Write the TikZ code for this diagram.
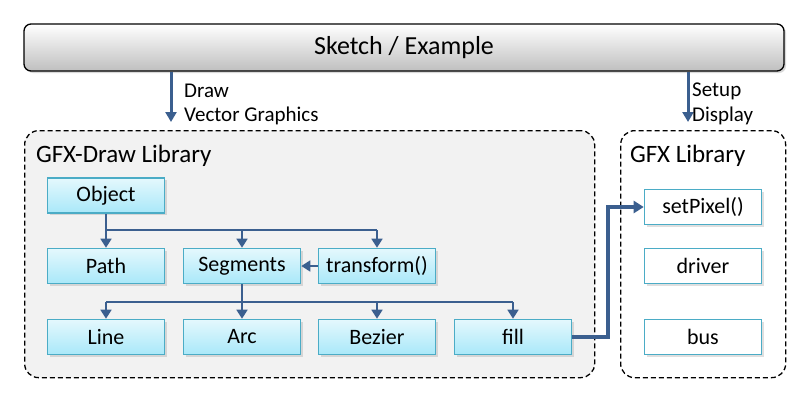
\documentclass[tikz,border=0pt]{standalone}
\usepackage{fontspec}
\setmainfont{Carlito}
\usetikzlibrary{arrows.meta,shadows,calc}
\definecolor{arr}{HTML}{3B5F8F}
\definecolor{nbord}{HTML}{4BACC6}
\definecolor{ntop}{HTML}{E4F8FD}
\definecolor{nbot}{HTML}{A9E8F9}
\definecolor{grp}{HTML}{F2F2F2}
\tikzset{
  box/.style={draw=nbord, line width=1.6pt, top color=ntop, bottom color=nbot,
    minimum width=117pt, minimum height=35pt, inner sep=0pt, font=\fontsize{22}{26}\selectfont,
    drop shadow={shadow xshift=2pt, shadow yshift=-2pt, opacity=0.25}},
  wbox/.style={box, top color=white, bottom color=white},
  grpbox/.style={draw=black, line width=1.3pt, dash pattern=on 5pt off 3pt, rounded corners=14pt},
  conn/.style={draw=arr, line width=1.7pt, -{Triangle[length=9pt,width=11pt]}},
  line/.style={draw=arr, line width=1.7pt},
  thick conn/.style={draw=arr, line width=3pt, -{Triangle[length=10pt,width=11pt]}},
  lbl/.style={font=\fontsize{21}{25}\selectfont, anchor=west, inner sep=0pt},
}
\begin{document}
\begin{tikzpicture}[x=1pt,y=-1pt]
\useasboundingbox (0,0) rectangle (809,402);
% groups
\node[grpbox, fill=grp, minimum width=570pt, minimum height=247pt, anchor=north west] (gl) at (24,130) {};
\node[grpbox, fill=white, minimum width=165pt, minimum height=247pt, anchor=north west] (gr) at (620,130) {};
\node[anchor=west, inner sep=0pt, font=\fontsize{25}{30}\selectfont] (tl) at (36,156) {GFX-Draw Library};
\node[anchor=west, inner sep=0pt, font=\fontsize{25}{30}\selectfont] (tr) at (630,156) {GFX Library};
% top bar
\node[draw=black, line width=1.3pt, rounded corners=7pt, top color=white, bottom color=black!25,
  minimum width=760pt, minimum height=47pt, inner sep=0pt, font=\fontsize{26}{30}\selectfont,
  drop shadow={shadow xshift=2pt, shadow yshift=-2pt, opacity=0.3}] (top) at (404,47.5) {Sketch / Example};
% nodes
\node[box] (obj) at (106,195.5) {Object};
\node[box] (path) at (106,266) {Path};
\node[box] (seg) at (242,266) {Segments};
\node[box] (tr2) at (377,266) {transform()};
\node[box] (line) at (106,337) {Line};
\node[box] (arc) at (242,337) {Arc};
\node[box] (bez) at (377,337) {Bezier};
\node[box] (fill) at (513,337) {fill};
\node[wbox] (sp) at (703,207) {setPixel()};
\node[wbox] (drv) at (703,266) {driver};
\node[wbox] (bus) at (703,337) {bus};
% top arrows
\coordinate (a1) at (171,122);
\coordinate (a2) at (688,122);
\draw[thick conn] (top.south -| a1) -- (a1);
\draw[thick conn] (top.south -| a2) -- (a2);
\node[lbl] (l1) at (184,91) {Draw};
\node[lbl] (l2) at (184,116) {Vector Graphics};
\node[lbl] (l3) at (692,91) {Setup};
\node[lbl] (l4) at (692,116) {Display};
% object tree
\coordinate (j1) at (106,230);
\draw[line] (obj.south) -- (j1) -- (j1 -| tr2.north);
\draw[conn] (j1) -- (path.north);
\draw[conn] (j1 -| seg.north) -- (seg.north);
\draw[conn] (j1 -| tr2.north) -- (tr2.north);
\draw[conn] (tr2.west) -- (seg.east);
% segments tree
\coordinate (j2) at (242,302);
\draw[line] (seg.south) -- (j2);
\draw[line] (j2 -| line.north) -- (j2 -| fill.north);
\draw[conn] (j2 -| line.north) -- (line.north);
\draw[conn] (j2) -- (arc.north);
\draw[conn] (j2 -| bez.north) -- (bez.north);
\draw[conn] (j2 -| fill.north) -- (fill.north);
% fill -> setPixel
\coordinate (k) at (608,337);
\draw[draw=arr, line width=3.2pt, -{Triangle[length=10pt,width=12pt]}] (fill.east) -- (k) -- (k |- sp.west) -- (sp.west);
\end{tikzpicture}
\end{document}
